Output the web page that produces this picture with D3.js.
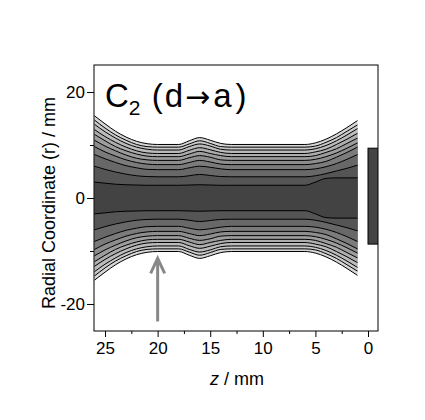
<!DOCTYPE html>
<html><head><meta charset="utf-8">
<script src="https://cdn.jsdelivr.net/npm/d3@7"></script>
<style>
body{margin:0;background:#fff;}
text{font-family:Arial,"Liberation Sans",sans-serif;fill:#000;}
</style>
</head><body>
<svg id="chart" width="425" height="420"></svg>
<script>
// z positions (mm) at which the contour radii were read
const zKnots = [26, 25, 24, 23, 22, 21, 20, 18, 17, 16, 15, 14, 13, 6, 5, 4, 3, 2, 1];
// radius (mm) of each iso-line at those z positions, outermost first (mirrored for r < 0)
const iso1  = [15.5, 14.0, 12.6, 11.5, 10.7, 10.25, 10.1, 10.1, 10.8, 11.4, 10.9, 10.3, 10.1, 10.1, 10.4, 11.1, 12.1, 13.3, 14.6];
const iso2  = [14.7, 13.2, 11.9, 10.9, 10.1, 9.7, 9.6, 9.6, 10.2, 10.8, 10.3, 9.7, 9.6, 9.6, 9.8, 10.5, 11.4, 12.6, 13.8];
const iso3  = [13.9, 12.5, 11.3, 10.3, 9.6, 9.2, 9.05, 9.05, 9.7, 10.2, 9.8, 9.2, 9.05, 9.05, 9.3, 9.9, 10.8, 11.9, 13.1];
const iso4  = [12.9, 11.6, 10.5, 9.6, 8.9, 8.5, 8.4, 8.4, 9.0, 9.5, 9.1, 8.6, 8.4, 8.4, 8.7, 9.2, 10.1, 11.1, 12.2];
const iso5  = [12.0, 10.8, 9.7, 8.9, 8.3, 7.9, 7.8, 7.8, 8.3, 8.8, 8.4, 8.0, 7.8, 7.8, 8.0, 8.6, 9.3, 10.3, 11.3];
const iso6  = [10.9, 9.8, 8.9, 8.1, 7.5, 7.2, 7.1, 7.1, 7.6, 8.0, 7.7, 7.2, 7.1, 7.1, 7.3, 7.8, 8.5, 9.4, 10.4];
const iso7  = [9.7, 8.7, 7.9, 7.2, 6.7, 6.4, 6.3, 6.3, 6.7, 7.1, 6.8, 6.4, 6.3, 6.3, 6.5, 6.9, 7.7, 8.6, 9.6];
const iso8  = [8.2, 7.4, 6.7, 6.1, 5.7, 5.4, 5.35, 5.35, 5.7, 6.0, 5.8, 5.5, 5.35, 5.35, 5.5, 5.9, 6.5, 7.3, 8.2];
const iso9  = [6.0, 5.4, 4.9, 4.5, 4.2, 4.05, 4.0, 4.0, 4.2, 4.45, 4.25, 4.05, 4.0, 4.0, 4.2, 4.6, 5.1, 5.6, 6.2];
const iso10 = [3.0, 2.8, 2.6, 2.5, 2.45, 2.4, 2.4, 2.4, 2.45, 2.5, 2.45, 2.4, 2.4, 2.4, 3.0, 3.7, 3.8, 3.8, 3.8];
const isoLines = [iso1, iso2, iso3, iso4, iso5, iso6, iso7, iso8, iso9, iso10];
// fill of the band just inside each iso-line
const bandColors = ["#d6d6d6", "#c9c9c9", "#bbbbbb", "#adadad", "#9d9d9d", "#8d8d8d", "#7b7b7b", "#686868", "#555555", "#434343"];

const xTicks = [25, 20, 15, 10, 5, 0];
const xMinorTicks = [22.5, 17.5, 12.5, 7.5, 2.5];
const yTicks = [20, 0, -20];
const yMinorTicks = [10, -10];
const xDomain = [26.05, -0.95];
const yDomain = [-25.1, 25.1];

// electrode block at z < 0
const blockZ = [0, -0.95];
const blockR = [-8.7, 9.4];
// arrow marking z = 20 mm
const arrowZ = 20;
const arrowR = [-23.3, -11.2];

const svg = d3.select("#chart");
const L = 94, R = 378, T = 65, B = 331;
const x = d3.scaleLinear().domain(xDomain).range([L, R]);
const y = d3.scaleLinear().domain(yDomain).range([B, T]);

svg.append("defs").append("clipPath").attr("id", "clip")
  .append("rect").attr("x", L).attr("y", T).attr("width", R - L).attr("height", B - T);

const g = svg.append("g").attr("clip-path", "url(#clip)");

isoLines.forEach((line, k) => {
  const pts = zKnots.map((z, i) => [z, line[i]]);
  const area = d3.area().x(d => x(d[0])).y0(d => y(-d[1])).y1(d => y(d[1])).curve(d3.curveMonotoneX);
  g.append("path").attr("d", area(pts)).attr("fill", bandColors[k]);
});
isoLines.forEach((line) => {
  const pts = zKnots.map((z, i) => [z, line[i]]);
  const top = d3.line().x(d => x(d[0])).y(d => y(d[1])).curve(d3.curveMonotoneX);
  const bot = d3.line().x(d => x(d[0])).y(d => y(-d[1])).curve(d3.curveMonotoneX);
  g.append("path").attr("d", top(pts)).attr("fill", "none").attr("stroke", "#000").attr("stroke-width", 1);
  g.append("path").attr("d", bot(pts)).attr("fill", "none").attr("stroke", "#000").attr("stroke-width", 1);
});

// electrode block
g.append("rect")
  .attr("x", x(blockZ[0])).attr("y", y(blockR[1]))
  .attr("width", x(blockZ[1]) - x(blockZ[0]) + 2).attr("height", y(blockR[0]) - y(blockR[1]))
  .attr("fill", "#444").attr("stroke", "#000").attr("stroke-width", 1);

// arrow
const ax = x(arrowZ);
svg.append("line").attr("x1", ax).attr("x2", ax).attr("y1", y(arrowR[0])).attr("y2", y(arrowR[1]) + 2)
  .attr("stroke", "#888").attr("stroke-width", 3);
svg.append("path")
  .attr("d", `M${ax - 7},${y(arrowR[1]) + 16} L${ax},${y(arrowR[1]) + 1} L${ax + 7},${y(arrowR[1]) + 16}`)
  .attr("fill", "none").attr("stroke", "#888").attr("stroke-width", 3);

// frame
svg.append("rect").attr("x", L).attr("y", T).attr("width", R - L).attr("height", B - T)
  .attr("fill", "none").attr("stroke", "#000").attr("stroke-width", 1);

// axes
const xAxis = svg.append("g").attr("transform", `translate(0,${B})`)
  .call(d3.axisBottom(x).tickValues(xTicks).tickSize(6).tickPadding(5).tickFormat(d => String(d)));
const xMinor = svg.append("g").attr("transform", `translate(0,${B})`)
  .call(d3.axisBottom(x).tickValues(xMinorTicks).tickSize(3).tickFormat(""));
const yAxis = svg.append("g").attr("transform", `translate(${L},0)`)
  .call(d3.axisLeft(y).tickValues(yTicks).tickSize(7).tickPadding(2).tickFormat(d => String(d)));
const yMinor = svg.append("g").attr("transform", `translate(${L},0)`)
  .call(d3.axisLeft(y).tickValues(yMinorTicks).tickSize(4).tickFormat(""));
[xAxis, xMinor, yAxis, yMinor].forEach(a => {
  a.select(".domain").remove();
  a.selectAll("line").attr("stroke", "#000");
  a.selectAll("text").attr("font-size", 17).attr("font-family", "Arial, 'Liberation Sans', sans-serif").attr("fill", "#000");
});

// axis titles
const xt = svg.append("text").attr("x", 237).attr("y", 385).attr("text-anchor", "middle").attr("font-size", 18);
xt.append("tspan").attr("font-style", "italic").text("z");
xt.append("tspan").text(" / mm");
svg.append("text").attr("transform", "translate(55,203) rotate(-90)").attr("text-anchor", "middle")
  .attr("font-size", 18).text("Radial Coordinate (r) / mm");

// panel title
const tt = svg.append("text").attr("x", 105).attr("y", 107).attr("font-size", 33);
tt.append("tspan").text("C");
tt.append("tspan").attr("font-size", 21).attr("dy", 8).text("2");
tt.append("tspan").attr("dy", -8).attr("letter-spacing", 2).text(" (d");
tt.append("tspan").attr("font-family", "'DejaVu Sans', sans-serif").attr("font-size", 30).attr("letter-spacing", 3).text("\u2192");
tt.append("tspan").attr("letter-spacing", 4).text("a)");
</script>
</body></html>
